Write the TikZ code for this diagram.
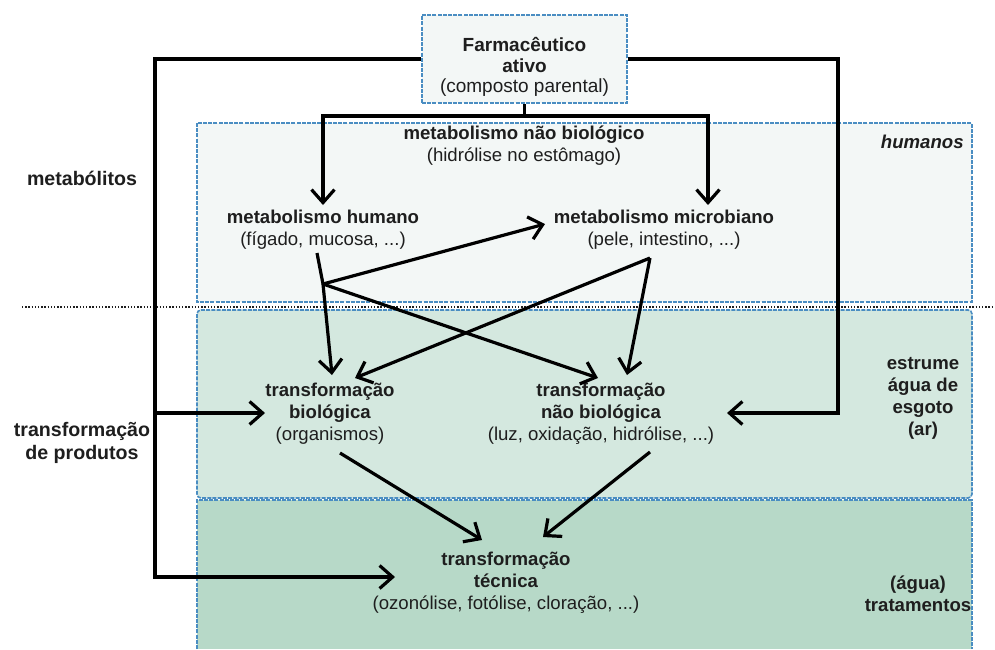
\documentclass[tikz,border=0pt]{standalone}
\usepackage{fontspec}
\setmainfont{Liberation Sans}
\usetikzlibrary{arrows.meta}
\definecolor{txt}{HTML}{1E1E1E}
\definecolor{bandA}{HTML}{F3F7F6}
\definecolor{bandB}{HTML}{D4E8DF}
\definecolor{bandC}{HTML}{B7D9C8}
\definecolor{bord}{HTML}{4A8DC2}
\tikzset{
  lbl/.style={align=center, font=\fontsize{9.3}{11}\selectfont, text=txt, inner sep=0pt},
  bandborder/.style={draw=bord, line width=0.8pt, dash pattern=on 2pt off 0.6pt},
  ln/.style={draw=black, line width=1.6pt},
  arr/.style={ln, -{Straight Barb[length=6.5pt,width=11.5pt,line width=1.6pt]}},
}
\begin{document}
\begin{tikzpicture}[x=0.5pt,y=-0.5pt]
\useasboundingbox (0,0) rectangle (995,649);
\fill[white] (0,0) rectangle (995,649);
% bands
\fill[bandA] (197,123) rectangle (972,302);
\draw[bandborder] (197,123) rectangle (972,302);
\fill[bandB,rounded corners=2pt] (197,310) rectangle (972,498);
\draw[bandborder,rounded corners=2pt] (197,310) rectangle (972,498);
\fill[bandC] (197,500) rectangle (972,649);
\draw[bandborder] (197,649) -- (197,500) -- (972,500) -- (972,649);
% dotted separator
\draw[txt, line width=0.8pt, dash pattern=on 0.7pt off 0.9pt] (22,307) -- (993,307);

% nodes
\node[draw=bord, fill=bandA, line width=0.8pt, dash pattern=on 2pt off 0.6pt,
      minimum width=102.5pt, minimum height=44pt, inner sep=0pt] (top) at (524.5,59) {};
\node[lbl, font=\fontsize{9.5}{10.2}\selectfont] (toptext) at (524.5,67)
      {\textbf{Farmacêutico}\\\textbf{ativo}\\(composto parental)};
\node[lbl] (mnb) at (524,146) {\textbf{metabolismo não biológico}\\(hidrólise no estômago)};
\node[lbl] (mh) at (323,230) {\textbf{metabolismo humano}\\(fígado, mucosa, ...)};
\node[lbl] (mm) at (664,230) {\textbf{metabolismo microbiano}\\(pele, intestino, ...)};
\node[lbl] (tb) at (330,414) {\textbf{transformação}\\\textbf{biológica}\\(organismos)};
\node[lbl] (tnb) at (601,414) {\textbf{transformação}\\\textbf{não biológica}\\(luz, oxidação, hidrólise, ...)};
\node[lbl] (tt) at (506,583) {\textbf{transformação}\\\textbf{técnica}\\(ozonólise, fotólise, cloração, ...)};
\node[lbl, anchor=east, font=\fontsize{9.3}{11}\selectfont\bfseries\itshape] (hum) at (964,142) {humanos};
\node[lbl, font=\fontsize{9.3}{11}\selectfont\bfseries] (est) at (923,398) {estrume\\água de\\esgoto\\(ar)};
\node[lbl, font=\fontsize{9.3}{11}\selectfont\bfseries] (agua) at (918,594) {(água)\\tratamentos};
\node[lbl, font=\fontsize{9.8}{11.5}\selectfont\bfseries] (met) at (82,178) {metabólitos};
\node[lbl, font=\fontsize{9.8}{11.5}\selectfont\bfseries] (tp) at (82,443) {transformação\\de produtos};

% coordinates for connectors
\coordinate (lc) at (155,577);
\coordinate (ltip) at (395,577);
\coordinate (lb) at (155,413);
\coordinate (tbtip) at (265,413);
\coordinate (rc) at (838,413);
\coordinate (tnbtip) at (727,413);
\coordinate (td) at (524.5,116);
\coordinate (mhtip) at (323,205);
\coordinate (mmtip) at (708,205);
\coordinate (hs) at (317,253);
\coordinate (hb) at (323,284);
\coordinate (hm) at (545,224);
\coordinate (htb) at (332,375);
\coordinate (htnb) at (598,378);
\coordinate (ms) at (650,258);
\coordinate (mtb) at (355,378);
\coordinate (mtnb) at (627,375);
\coordinate (bs) at (340,453);
\coordinate (btip) at (482,540);
\coordinate (ns) at (650,452);
\coordinate (ntip) at (543,537);

% connectors
\draw[arr] (top.west) -| (lc) -- (ltip);
\draw[arr] (lb) -- (tbtip);
\draw[arr] (top.east) -| (rc) -- (tnbtip);
\draw[ln] (top.south) -- (td);
\draw[arr] (td) -| (mhtip);
\draw[arr] (td) -| (mmtip);
\draw[ln] (hs) -- (hb);
\draw[arr] (hb) -- (hm);
\draw[arr] (hb) -- (htb);
\draw[arr] (hb) -- (htnb);
\draw[arr] (ms) -- (mtb);
\draw[arr] (ms) -- (mtnb);
\draw[arr] (bs) -- (btip);
\draw[arr] (ns) -- (ntip);
\end{tikzpicture}
\end{document}
